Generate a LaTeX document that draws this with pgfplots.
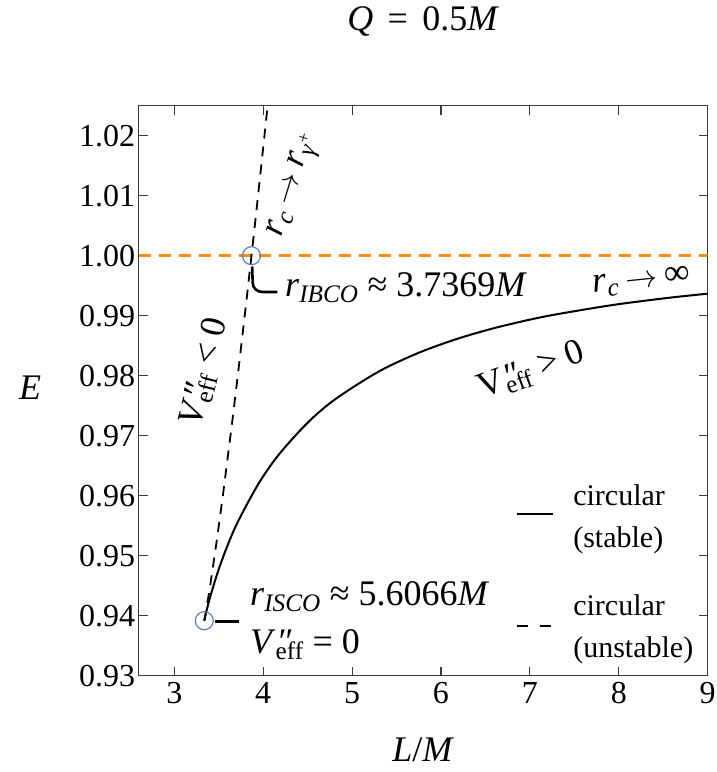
\RequirePackage{fix-cm}
\documentclass[border=0pt]{standalone}
\usepackage{fontspec}
\setmainfont{Liberation Serif}
\usepackage{pgfplots}
\pgfplotsset{compat=1.18}
\usetikzlibrary{calc}
\definecolor{mblue}{RGB}{94,129,181}
\definecolor{morange}{RGB}{255,140,20}
\definecolor{framec}{RGB}{60,60,60}
\newcommand{\Vpp}[1]{#1\makebox[0pt][l]{\kern0.08em″}\textsubscript{eff}}
\newcommand{\bigfs}{\fontsize{36}{42}\selectfont}
\newcommand{\midfs}{\fontsize{30}{36}\selectfont}
\newcommand{\tickfs}{\fontsize{32}{38}\selectfont}
\newcommand{\arr}{\hspace{0.2em}{\fontsize{32}{38}\selectfont$\rightarrow$}\hspace{0.2em}}
\pgfplotstableread{
L E
3.3377 0.93916
3.33819 0.93920
3.34503 0.939669
3.37009 0.941234
3.40664 0.943275
3.49956 0.947720
3.60618 0.951961
3.71884 0.955763
3.94898 0.962030
4.17653 0.966861
4.50517 0.972239
4.81676 0.976148
5.30089 0.980704
5.74762 0.983808
6.16367 0.986055
6.55427 0.987758
6.92342 0.989091
7.27422 0.990164
7.93003 0.991778
8.53612 0.992939
8.88008 0.993489
8.99184 0.993655
9.10220 0.993811
}\stable
\pgfplotstableread{
L E
3.3377 0.93916
3.34022 0.939358
3.34813 0.939994
3.36300 0.941251
3.40272 0.944893
3.47328 0.951999
3.54644 0.959976
3.65149 0.972272
3.72082 0.980827
3.80537 0.991657
3.8685 1.0
3.90960 1.005534
3.97101 1.013951
4.01143 1.019580
4.04002 1.023600
4.07004 1.027853
}\unstable
\begin{document}
\begin{tikzpicture}
\begin{axis}[
  name=ax,
  scale only axis,
  width=569pt, height=570pt,
  xmin=2.6, xmax=9, ymin=0.93, ymax=1.025,
  xtick={3,4,5,6,7,8,9},
  ytick={0.93,0.94,0.95,0.96,0.97,0.98,0.99,1.00,1.01,1.02},
  tick align=inside,
  major tick length=9pt,
  minor tick num=0,
  axis line style={framec, line width=1.2pt},
  every tick/.style={framec, line width=1.1pt},
  tick label style={font=\tickfs},
  /pgf/number format/assume math mode=true,
  yticklabel style={/pgf/number format/.cd, fixed, fixed zerofill, precision=2},
  xticklabel style={yshift=-3pt},
  clip=true,
]
\addplot[morange, line width=2.4pt, dash pattern=on 12pt off 8pt] coordinates {(2.6,1) (9,1)};
\addplot[black, line width=2pt, smooth] table[x=L,y=E] {\stable};
\addplot[black, line width=1.8pt, dash pattern=on 10pt off 8pt] table[x=L,y=E] {\unstable};
\addplot[only marks, mark=o, mark size=9pt, mark options={mblue, line width=1.2pt}] coordinates {(3.3377,0.93916) (3.8685,1.0)};
% leader lines
\draw[black, line width=2.6pt] (axis cs:3.461,0.9390) -- (axis cs:3.731,0.9390);
\draw[black, line width=2.6pt] (axis cs:3.876,0.9982) -- (axis cs:3.882,0.9955) to[out=-90,in=180] (axis cs:3.99,0.99395) -- (axis cs:4.16,0.99395);
% annotations
\node[anchor=base west, inner sep=0pt, font=\bigfs] at (axis cs:4.246,0.99312) {\textit{r}\textsubscript{\textit{IBCO}} ≈ 3.7369\textit{M}};
\node[anchor=base west, inner sep=0pt, font=\bigfs] at (axis cs:3.852,0.94162) {\textit{r}\textsubscript{\textit{ISCO}} ≈ 5.6066\textit{M}};
\node[anchor=base west, inner sep=0pt, font=\bigfs] at (axis cs:3.852,0.93362) {\Vpp{\textit{V}} = 0};
\node[rotate=73, inner sep=0pt, font=\bigfs] at (axis cs:4.36,1.0117) {\textit{r}\textsubscript{\textit{c}}\arr\textit{r}\textsubscript{\textit{γ}\textsuperscript{+}}};
\node[rotate=76, inner sep=0pt, font=\bigfs] at (axis cs:3.34,0.98062) {\Vpp{\textit{V}} < 0};
\node[rotate=6, inner sep=0pt, font=\bigfs] at (axis cs:8.26,0.99562) {\textit{r}\textsubscript{\textit{c}}\arr∞};
\node[rotate=20, inner sep=0pt, font=\bigfs] at (axis cs:7.02,0.9808) {\Vpp{V} > 0};
% legend
\draw[black, line width=2.6pt] (axis cs:6.857,0.95695) -- (axis cs:7.262,0.95695);
\draw[black, line width=2.6pt, dash pattern=on 11pt off 12pt] (axis cs:6.857,0.93828) -- (axis cs:7.262,0.93828);
\node[anchor=west, inner sep=0pt, font=\midfs] at (axis cs:7.486,0.96012) {circular};
\node[anchor=west, inner sep=0pt, font=\midfs] at (axis cs:7.486,0.95262) {(stable)};
\node[anchor=west, inner sep=0pt, font=\midfs] at (axis cs:7.486,0.94178) {circular};
\node[anchor=west, inner sep=0pt, font=\midfs] at (axis cs:7.486,0.93428) {(unstable)};
\end{axis}
\node[anchor=base, inner sep=0pt, font=\bigfs] at ($(ax.north)+(0,74.7pt)$) {\textit{Q}\hspace{0.4em}=\hspace{0.4em}0.5\textit{M}};
\node[anchor=base, inner sep=0pt, font=\bigfs] at ($(ax.south)+(0,-86pt)$) {\textit{L}/\textit{M}};
\node[anchor=center, inner sep=0pt, font=\bigfs] at ($(ax.west)+(-108.7pt,3pt)$) {\textit{E}};
\pgfresetboundingbox
\path[use as bounding box] ($(ax.south west)+(-138.7pt,-96.3pt)$) rectangle ($(ax.north east)+(8.3pt,105.7pt)$);
\end{tikzpicture}
\end{document}
